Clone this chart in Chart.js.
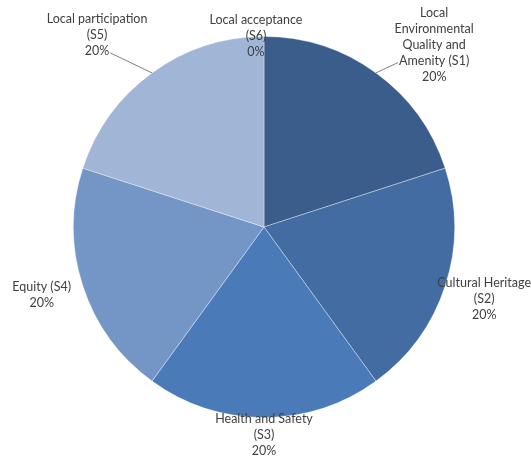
<!DOCTYPE html>
<html>
<head>
<meta charset="utf-8">
<script src="https://cdn.jsdelivr.net/npm/chart.js@4"></script>
<style>
  html, body { margin: 0; padding: 0; background: #fff; }
  #wrap { width: 531px; height: 457px; }
</style>
</head>
<body>
<div id="wrap"><canvas id="pie" width="531" height="457"></canvas></div>
<script>
// categorias y valores (porcentajes)
const labels = [
  ["Local", "Environmental", "Quality and", "Amenity (S1)"],
  ["Cultural Heritage", "(S2)"],
  ["Health and Safety", "(S3)"],
  ["Equity (S4)"],
  ["Local participation", "(S5)"],
  ["Local acceptance", "(S6)"]
];
const values = [20, 20, 20, 20, 20, 0];
const colors = ["#3b5d8c", "#426ca2", "#4a7bb8", "#7496c7", "#a1b5d7", "#c5d1e6"];

// ajustes de las etiquetas: distancia fuera del borde y giro (grados)
const labelDist = [59, 41, 17, 42, 64, 1];
const labelTurn = [7, 0, 0, 1, -5, -2.4];
// linea guia: indice de la linea de texto a la que llega (-1 = sin linea)
const leaderLine = [3, -1, -1, -1, 2, -1];

const labelPlugin = {
  id: "pieLabels",
  afterDatasetsDraw(chart) {
    const ctx = chart.ctx;
    const meta = chart.getDatasetMeta(0);
    const lh = 16;
    ctx.save();
    ctx.font = "12.5px Lato";
    ctx.textAlign = "center";
    ctx.textBaseline = "middle";
    meta.data.forEach((arc, i) => {
      const p = arc.getProps(["x", "y", "startAngle", "endAngle", "outerRadius"], true);
      const mid = (p.startAngle + p.endAngle) / 2;
      const ang = mid + labelTurn[i] * Math.PI / 180;
      const d = p.outerRadius + labelDist[i];
      const cx = p.x + Math.cos(ang) * d;
      const cy = p.y + Math.sin(ang) * d;
      const lines = labels[i].concat([values[i] + "%"]);
      const top = cy - (lines.length - 1) * lh / 2;

      // linea guia desde el borde del sector
      if (leaderLine[i] >= 0) {
        const ly = top + leaderLine[i] * lh + 2;
        const w = ctx.measureText(lines[leaderLine[i]]).width;
        const sx = p.x + Math.cos(mid) * p.outerRadius;
        const sy = p.y + Math.sin(mid) * p.outerRadius;
        const ex = sx < cx ? cx - w / 2 - 1 : cx + w / 2 + 1;
        ctx.strokeStyle = "#7f7f7f";
        ctx.lineWidth = 1;
        ctx.beginPath();
        ctx.moveTo(sx, sy);
        ctx.lineTo(ex, ly);
        ctx.stroke();
      }

      ctx.fillStyle = "#404040";
      lines.forEach((t, k) => ctx.fillText(t, cx, top + k * lh));
    });
    ctx.restore();
  }
};

new Chart(document.getElementById("pie").getContext("2d"), {
  type: "pie",
  data: {
    labels: labels.map(l => l.join(" ")),
    datasets: [{
      data: values,
      backgroundColor: colors,
      borderColor: "rgba(255,255,255,0.35)",
      borderWidth: 1
    }]
  },
  options: {
    responsive: false,
    animation: false,
    layout: { padding: { left: 73, right: 76, top: 36, bottom: 39 } },
    plugins: {
      legend: { display: false },
      tooltip: { enabled: false }
    }
  },
  plugins: [labelPlugin]
});
</script>
</body>
</html>
